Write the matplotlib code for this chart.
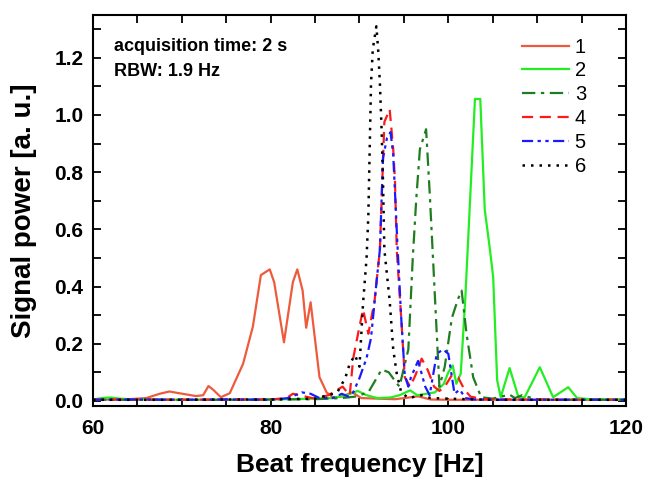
import matplotlib
matplotlib.use('Agg')
import matplotlib.pyplot as plt
from matplotlib.ticker import MultipleLocator

plt.rcParams['font.family'] = ['Liberation Sans', 'DejaVu Sans']

# curve 1 - solid orange-red
x1 = [60, 62, 64, 66, 67.5, 68.6, 69.7, 71.6, 72.4, 73.0, 73.5, 74.4, 75.4, 76.9, 78.0, 78.9, 79.9, 80.4,
      81.5, 82.5, 83.0, 83.6, 84.0, 84.5, 85.5, 86.3, 87.0, 88, 89.2, 90.2, 92, 94, 96.6, 98, 100, 105, 110, 115, 120]
y1 = [0.005, 0.005, 0.006, 0.01, 0.025, 0.033, 0.027, 0.017, 0.02, 0.052, 0.04, 0.013, 0.027, 0.13, 0.26, 0.44,
      0.46, 0.415, 0.205, 0.415, 0.46, 0.386, 0.256, 0.345, 0.083, 0.03, 0.013, 0.015, 0.03, 0.01, 0.008, 0.006,
      0.016, 0.005, 0.004, 0.004, 0.004, 0.004, 0.004]

# curve 2 - solid lime
x2 = [60, 61, 62, 63, 65, 70, 75, 80, 85, 87, 88.5, 89.8, 90.8, 92, 93.5, 94.5, 95.7, 96.5, 97.5, 98.5, 99.5,
      100.0, 100.5, 100.9, 101.4, 101.9, 102.4, 103.0, 103.6, 104.1, 104.7, 105.05, 105.5, 105.9, 106.9, 107.9,
      108.6, 110.3, 111.8, 113.5, 114.5, 116, 120]
y2 = [0.005, 0.01, 0.012, 0.008, 0.005, 0.004, 0.004, 0.005, 0.008, 0.01, 0.02, 0.035, 0.02, 0.01, 0.012, 0.02,
      0.037, 0.02, 0.025, 0.03, 0.06, 0.1, 0.124, 0.06, 0.095, 0.35, 0.67, 1.056, 1.056, 0.67, 0.526, 0.433, 0.072,
      0.013, 0.115, 0.013, 0.013, 0.118, 0.013, 0.048, 0.01, 0.006, 0.005]

# curve 3 - dark green dash-dot
x3 = [60, 65, 70, 75, 80, 85, 88, 89.5, 91, 92.5, 93.3, 94.0, 94.5, 95.5, 96.0, 96.4, 96.8, 97.5, 97.9, 98.3,
      98.7, 99.0, 99.6, 100.4, 101.1, 101.5, 102.05, 102.8, 103.7, 105, 106.9, 107.5, 108.3, 110, 115, 120]
y3 = [0.004, 0.004, 0.004, 0.004, 0.005, 0.006, 0.01, 0.015, 0.03, 0.11, 0.1, 0.07, 0.05, 0.18, 0.5, 0.71, 0.88,
      0.95, 0.73, 0.485, 0.235, 0.05, 0.12, 0.29, 0.357, 0.386, 0.235, 0.083, 0.013, 0.008, 0.022, 0.01, 0.02,
      0.005, 0.004, 0.004]

# curve 4 - red dashed
x4 = [60, 65, 70, 75, 80, 81.8, 82.5, 83.2, 85, 86.5, 87.3, 88.1, 88.9, 89.3, 90.0, 90.4, 91.0, 91.7, 92.3, 92.8,
      93.4, 93.8, 94.0, 94.2, 94.7, 95.1, 95.7, 96.3, 97.0, 97.7, 98.4, 99.0, 99.6, 100.4, 101.1, 101.8, 102.5,
      104, 108, 115, 120]
y4 = [0.005, 0.005, 0.004, 0.005, 0.005, 0.01, 0.025, 0.02, 0.008, 0.02, 0.035, 0.05, 0.02, 0.15, 0.26, 0.32,
      0.235, 0.35, 0.53, 0.975, 1.02, 0.88, 0.765, 0.526, 0.29, 0.083, 0.05, 0.09, 0.148, 0.107, 0.05, 0.035,
      0.05, 0.09, 0.083, 0.04, 0.015, 0.006, 0.005, 0.004, 0.004]

# curve 5 - blue dash-dot
x5 = [60, 65, 70, 75, 80, 82, 83.5, 84.5, 85.5, 87, 88, 88.8, 89.3, 90.0, 90.8, 91.3, 91.9, 92.3, 92.65, 93.1,
      93.5, 93.8, 94.3, 94.7, 95.1, 95.5, 95.8, 96.6, 97.4, 97.9, 98.7, 99.4, 100.0, 100.7, 101.3, 101.9, 103,
      105, 110, 120]
y5 = [0.004, 0.005, 0.004, 0.005, 0.004, 0.01, 0.03, 0.025, 0.01, 0.01, 0.025, 0.015, 0.03, 0.08, 0.15, 0.22,
      0.41, 0.53, 0.85, 0.92, 0.94, 0.86, 0.53, 0.29, 0.09, 0.05, 0.083, 0.14, 0.05, 0.02, 0.165, 0.18, 0.165,
      0.025, 0.04, 0.01, 0.005, 0.004, 0.004, 0.004]

# curve 6 - black dotted
x6 = [60, 65, 70, 75, 80, 85, 86.5, 87.5, 88.4, 88.9, 89.5, 90.0, 90.4, 90.8, 91.0, 91.15, 91.3, 91.5, 91.9,
      92.1, 92.3, 92.5, 92.65, 92.8, 93.4, 93.8, 94.2, 94.7, 95.5, 97, 98, 100, 102, 105, 110, 120]
y6 = [0.004, 0.004, 0.004, 0.005, 0.005, 0.008, 0.02, 0.03, 0.08, 0.13, 0.16, 0.12, 0.34, 0.5, 0.65, 0.88, 1.11,
      1.23, 1.31, 1.23, 1.11, 0.94, 0.765, 0.53, 0.35, 0.18, 0.095, 0.03, 0.01, 0.02, 0.01, 0.008, 0.006, 0.004,
      0.004, 0.004]

fig = plt.figure(figsize=(6.47, 4.8), dpi=100)
ax = fig.add_axes([0.1437, 0.154, 0.8238, 0.815])

ax.plot(x1, y1, color='#ee5a3c', lw=1.6, ls='-', label='1')
ax.plot(x2, y2, color='#22ee22', lw=1.6, ls='-', label='2')
ax.plot(x3, y3, color='#1e7d1e', lw=1.6, ls=(0, (6, 2.5, 1.5, 2.5)), label='3')
ax.plot(x4, y4, color='#ff1a1a', lw=1.6, ls=(0, (5, 3)), label='4')
ax.plot(x5, y5, color='#1a1aff', lw=1.6, ls=(0, (5, 2, 1.5, 2, 1.5, 2)), label='5')
ax.plot(x6, y6, color='black', lw=1.8, ls=(0, (1, 2.4)), label='6')

ax.set_xlim(60, 120)
ax.set_ylim(-0.018, 1.35)
ax.xaxis.set_major_locator(MultipleLocator(20))
ax.xaxis.set_minor_locator(MultipleLocator(5))
ax.yaxis.set_major_locator(MultipleLocator(0.2))
ax.yaxis.set_minor_locator(MultipleLocator(0.1))
ax.yaxis.set_major_formatter(matplotlib.ticker.FormatStrFormatter('%.1f'))
ax.tick_params(which='both', direction='in', top=True, right=True, width=1.3)
ax.tick_params(which='major', length=6, labelsize=15)
ax.tick_params(axis='x', which='major', pad=9)
ax.tick_params(axis='y', which='major', pad=7)
ax.tick_params(which='minor', length=6)
for lab in ax.get_xticklabels() + ax.get_yticklabels():
    lab.set_fontweight('bold')
for s in ax.spines.values():
    s.set_linewidth(1.5)

ax.set_xlabel('Beat frequency [Hz]', fontsize=19, fontweight='bold', labelpad=11)
ax.set_ylabel('Signal power [a. u.]', fontsize=20, fontweight='bold', labelpad=12)

ax.text(0.04, 0.918, 'acquisition time: 2 s', transform=ax.transAxes, fontsize=13, fontweight='bold', va='center')
ax.text(0.04, 0.854, 'RBW: 1.9 Hz', transform=ax.transAxes, fontsize=13, fontweight='bold', va='center')

ax.legend(loc='upper right', frameon=False, fontsize=14.5, handlelength=2.3, handletextpad=0.3,
          labelspacing=0.24, borderpad=0, borderaxespad=0, bbox_to_anchor=(0.925, 0.942))

fig.savefig('out.png', dpi=100)
